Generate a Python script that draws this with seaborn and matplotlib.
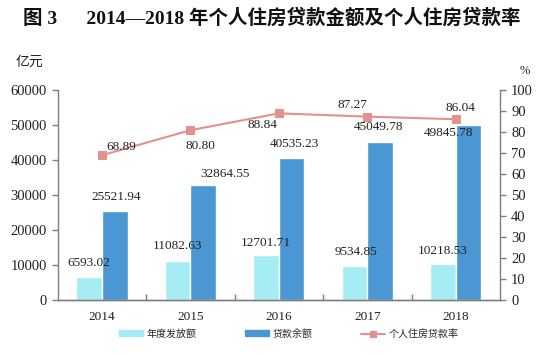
import numpy as np
import pandas as pd
import seaborn as sns
import matplotlib.pyplot as plt
from matplotlib.patches import Patch
from matplotlib.lines import Line2D

sns.set_theme(style="white")
plt.rcParams['font.family'] = ['Liberation Serif', 'Noto Sans CJK SC']

years = ['2014', '2015', '2016', '2017', '2018']
issued = [6593.02, 11082.63, 12701.71, 9534.85, 10218.53]      # 年度发放额
balance = [25521.94, 32864.55, 40535.23, 45049.78, 49845.78]   # 贷款余额
rate = [68.89, 80.80, 88.84, 87.27, 86.04]                     # 个人住房贷款率

c_issued = '#A6ECF5'
c_balance = '#4A97D3'
c_rate = '#E3918F'
grey = '#7F7F7F'
txt = '#222222'

df = pd.DataFrame({
    'year': years * 2,
    'value': issued + balance,
    'series': ['年度发放额'] * 5 + ['贷款余额'] * 5,
})

fig = plt.figure(figsize=(5.5, 3.54), dpi=100)
ax = fig.add_axes([0.105, 0.153, 0.804, 0.593])

sns.barplot(data=df, x='year', y='value', hue='series',
            palette=[c_issued, c_balance], width=0.58, ax=ax,
            legend=False, saturation=1)
ax.set_ylim(0, 60000)
ax.set_yticks(np.arange(0, 60001, 10000))
ax.set_xlim(-0.5, 4.5)
ax.set_xlabel('')
ax.set_ylabel('')

# bar value labels (offsets in pixels from bar top, label centre)
issued_off = [(0, 14), (0, 15), (0, 12), (1, 14), (0, 13)]
balance_off = [(1, 14), (22, 11), (3, 14), (-2, 15), (-20, -8)]
for cont, vals, offs in zip(ax.containers, [issued, balance], [issued_off, balance_off]):
    for bar, v, off in zip(cont, vals, offs):
        ax.annotate(f'{v:.2f}', (bar.get_x() + bar.get_width() / 2, bar.get_height()),
                    xytext=off, textcoords='offset pixels',
                    ha='center', va='center', fontsize=9.5, color=txt)

ax2 = ax.twinx()
sns.lineplot(x=np.arange(len(years)), y=rate, ax=ax2, color=c_rate,
             marker='s', markersize=5.5, markeredgecolor=c_rate, linewidth=1.5)
ax2.set_ylim(0, 100)
ax2.set_yticks(np.arange(0, 101, 10))

rate_off = [(19, 8), (10, -16), (-16, -12), (-15, 12), (5, 11)]
for i, (v, off) in enumerate(zip(rate, rate_off)):
    ax2.annotate(f'{v:.2f}', (i, v), xytext=off, textcoords='offset pixels',
                 ha='center', va='center', fontsize=9.5, color=txt)

for a in (ax, ax2):
    for s in a.spines.values():
        s.set_color(grey)
        s.set_linewidth(1.0)
    a.spines['top'].set_visible(False)
    a.tick_params(axis='y', length=4, width=1, color=grey, labelsize=10.5,
                  labelcolor=txt, pad=4)
    a.grid(False)
ax.spines['right'].set_visible(False)
ax2.spines['left'].set_visible(False)
ax.tick_params(axis='y', left=True, direction='out')
ax2.tick_params(axis='y', right=True, direction='out')

# x ticks between categories, pointing inward
ax.set_xticks(np.arange(0.5, 4.5, 1.0), minor=True)
ax.tick_params(axis='x', which='minor', bottom=True, direction='in', length=4, color=grey)
ax.tick_params(axis='x', which='major', bottom=False, labelsize=9.5, labelcolor=txt, pad=2)

fig.text(0.042, 0.95, '图 3      2014—2018 年个人住房贷款金额及个人住房贷款率',
         fontsize=14, fontweight='bold', va='center', ha='left', color='#111111')
fig.text(0.028, 0.825, '亿元', fontsize=10, color=txt, va='center',
         family=['Noto Sans CJK SC'])
fig.text(0.945, 0.80, '%', fontsize=9, color=txt, va='center')

handles = [Patch(color=c_issued), Patch(color=c_balance),
           Line2D([0], [0], color=c_rate, marker='s', markersize=4, linewidth=1.5)]
fig.legend(handles, ['年度发放额', '贷款余额', '个人住房贷款率'],
           loc='center', bbox_to_anchor=(0.525, 0.057), ncol=3, frameon=False,
           prop={'family': ['Noto Sans CJK SC'], 'size': 7.2},
           handlelength=2.4, handleheight=0.5, columnspacing=4.8, handletextpad=0.4)

fig.savefig('out.png', dpi=100)
